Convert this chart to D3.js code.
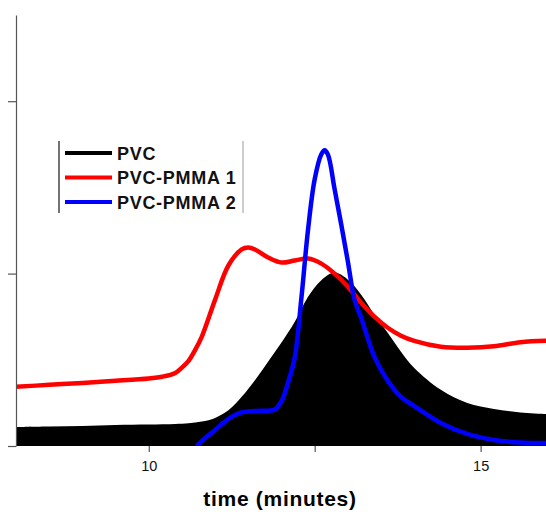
<!DOCTYPE html>
<html>
<head>
<meta charset="utf-8">
<script src="https://cdn.jsdelivr.net/npm/d3@7"></script>
<style>
  body { margin: 0; background: #fff; }
  svg { display: block; }
  .axis path, .axis line { stroke: #555; stroke-width: 1.2; }
  .axis text { font-family: "Liberation Sans", Arial, sans-serif; font-size: 14.5px; fill: #111; }
</style>
</head>
<body>
<div id="chart"></div>
<script>
// elution traces (time in minutes, detector signal in arbitrary units)
var pvcTime   = [8, 8.5, 9, 9.5, 10, 10.4, 10.6, 10.8, 11, 11.2, 11.4, 11.6, 11.8, 12, 12.2, 12.4, 12.6, 12.8, 13, 13.2, 13.4, 13.6, 13.8, 14, 14.4, 14.8, 15.2, 15.6, 16];
var pvcSignal = [0.110, 0.113, 0.116, 0.122, 0.125, 0.128, 0.132, 0.142, 0.163, 0.207, 0.285, 0.382, 0.490, 0.600, 0.720, 0.866, 0.962, 1.006, 0.965, 0.878, 0.762, 0.657, 0.547, 0.453, 0.326, 0.250, 0.215, 0.195, 0.186];

var pmma1Time   = [8, 8.5, 9, 9.5, 10, 10.2, 10.4, 10.5, 10.6, 10.7, 10.8, 11, 11.2, 11.4, 11.5, 11.6, 11.8, 12, 12.2, 12.4, 12.6, 12.8, 13, 13.2, 13.4, 13.6, 13.8, 14, 14.4, 14.8, 15.2, 15.6, 16];
var pmma1Signal = [0.343, 0.355, 0.366, 0.378, 0.392, 0.402, 0.424, 0.455, 0.494, 0.558, 0.635, 0.849, 1.047, 1.140, 1.151, 1.140, 1.093, 1.064, 1.076, 1.087, 1.058, 1.000, 0.924, 0.831, 0.750, 0.686, 0.640, 0.610, 0.576, 0.570, 0.578, 0.602, 0.610];

var pmma2Time   = [10.72, 10.8, 11, 11.2, 11.4, 11.6, 11.8, 11.9, 12, 12.1, 12.2, 12.3, 12.4, 12.5, 12.6, 12.65, 12.7, 12.8, 12.9, 13, 13.1, 13.2, 13.4, 13.6, 13.8, 14, 14.4, 14.8, 15.2, 15.6, 16];
var pmma2Signal = [0.000, 0.029, 0.093, 0.157, 0.195, 0.203, 0.205, 0.212, 0.260, 0.370, 0.515, 0.860, 1.256, 1.547, 1.692, 1.715, 1.690, 1.490, 1.285, 1.070, 0.849, 0.744, 0.517, 0.378, 0.285, 0.232, 0.134, 0.070, 0.035, 0.020, 0.017];

var seriesNames  = ["PVC", "PVC-PMMA 1", "PVC-PMMA 2"];
var seriesColors = ["#000000", "#ff0000", "#0000ff"];

var xTicks = [10, 12.5, 15];
var xTickLabels = ["10", "", "15"];
var yTicks = [0, 1, 2];
var xTitle = "time (minutes)";

var width = 546, height = 512;
var plotLeft = 16, plotRight = 547, plotTop = 15, plotBottom = 446;

var svg = d3.select("#chart").append("svg")
    .attr("width", width)
    .attr("height", height);

var x = d3.scaleLinear().domain([8, 16]).range([plotLeft, plotRight]);
var y = d3.scaleLinear().domain([0, 2.5]).range([plotBottom, plotTop]);

function zip(ts, vs) {
    return ts.map(function (t, i) { return { t: t, v: vs[i] }; });
}

svg.append("clipPath").attr("id", "plot-clip")
  .append("rect")
    .attr("x", plotLeft).attr("y", plotTop)
    .attr("width", width - plotLeft).attr("height", plotBottom - plotTop);

var plot = svg.append("g").attr("clip-path", "url(#plot-clip)");

var area = d3.area()
    .x(function (d) { return x(d.t); })
    .y0(y(0))
    .y1(function (d) { return y(d.v); })
    .curve(d3.curveCatmullRom.alpha(0.5));

var line = d3.line()
    .x(function (d) { return x(d.t); })
    .y(function (d) { return y(d.v); })
    .curve(d3.curveCatmullRom.alpha(0.5));

plot.append("path")
    .datum(zip(pvcTime, pvcSignal))
    .attr("d", area)
    .attr("fill", seriesColors[0]);

plot.append("path")
    .datum(zip(pmma1Time, pmma1Signal))
    .attr("d", line)
    .attr("fill", "none")
    .attr("stroke", seriesColors[1])
    .attr("stroke-width", 4.5);

plot.append("path")
    .datum(zip(pmma2Time, pmma2Signal))
    .attr("d", line)
    .attr("fill", "none")
    .attr("stroke", seriesColors[2])
    .attr("stroke-width", 4.5);

// axes
svg.append("g")
    .attr("class", "axis")
    .attr("transform", "translate(" + plotLeft + ",0)")
    .call(d3.axisLeft(y).tickValues(yTicks).tickFormat("").tickSizeInner(8).tickSizeOuter(0));

svg.append("g")
    .attr("class", "axis")
    .attr("transform", "translate(0," + plotBottom + ")")
    .call(d3.axisBottom(x).tickValues(xTicks)
        .tickFormat(function (d, i) { return xTickLabels[i]; })
        .tickSizeInner(6).tickSizeOuter(0).tickPadding(9))
    .select(".domain").remove();

svg.append("text")
    .attr("x", 280)
    .attr("y", 506)
    .attr("text-anchor", "middle")
    .attr("font-family", "Liberation Sans, Arial, sans-serif")
    .attr("font-weight", "bold")
    .attr("font-size", 21)
    .attr("letter-spacing", 0.7)
    .text(xTitle);

// legend
var legend = svg.append("g");
legend.append("line")
    .attr("x1", 59).attr("x2", 59).attr("y1", 141).attr("y2", 213)
    .attr("stroke", "#444").attr("stroke-width", 1.5);
legend.append("line")
    .attr("x1", 243).attr("x2", 243).attr("y1", 141).attr("y2", 213)
    .attr("stroke", "#999").attr("stroke-width", 1);

seriesNames.forEach(function (name, i) {
    var yy = 153 + i * 24.5;
    legend.append("line")
        .attr("x1", 65).attr("x2", 112).attr("y1", yy).attr("y2", yy)
        .attr("stroke", seriesColors[i]).attr("stroke-width", 4);
    legend.append("text")
        .attr("x", 117).attr("y", yy + 6.5)
        .attr("font-family", "Liberation Sans, Arial, sans-serif")
        .attr("font-weight", "bold")
        .attr("font-size", 18)
        .attr("letter-spacing", 0.7)
        .attr("fill", "#111")
        .text(name);
});
</script>
</body>
</html>
